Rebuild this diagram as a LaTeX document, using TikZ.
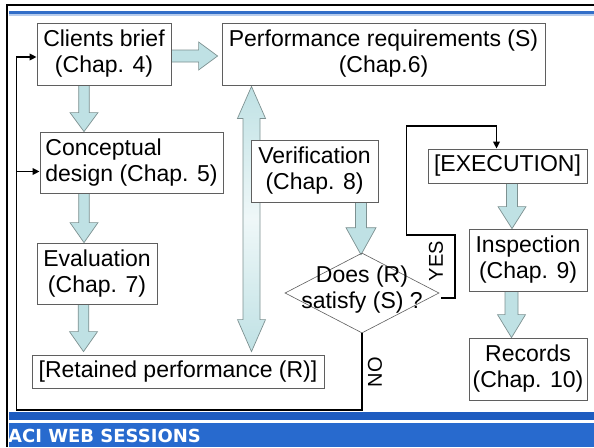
\documentclass[tikz,border=0pt]{standalone}
\usepackage{fontspec}
\setmainfont{Liberation Sans}
\newfontfamily\bandfont{DejaVu Sans}
\usetikzlibrary{calc,shapes.geometric,arrows.meta}
\definecolor{arrowfill}{RGB}{191,225,228}
\definecolor{arrowline}{RGB}{125,145,145}
\definecolor{boxline}{RGB}{95,95,95}
\definecolor{bandblue}{RGB}{40,106,206}
\definecolor{banddark}{RGB}{30,92,192}
\definecolor{stripblue}{RGB}{50,110,200}
\pgfdeclarelayer{back}
\pgfdeclarelayer{bg}
\pgfsetlayers{back,bg,main}
\tikzset{
  box/.style={draw=boxline, line width=0.8pt, fill=white, inner sep=0pt,
    align=center, font=\fontsize{23}{26}\selectfont},
  barrow/.style={draw=arrowline, line width=0.7pt, fill=arrowfill},
  shadedarrow/.style={draw=arrowline, line width=0.7pt, top color=arrowfill,
    bottom color=arrowfill, middle color=arrowfill!25},
  conn/.style={line width=1.8pt, -{Triangle[length=7pt,width=6.5pt]}},
  lbl/.style={font=\fontsize{20}{22}\selectfont, rotate=90, inner sep=0pt}
}
% half shaft, half head, head length, start, end
\newcommand\blockarrow[5]{%
  \coordinate (ba-s) at #4; \coordinate (ba-e) at #5;
  \coordinate (ba-h) at ($(ba-e)!#3!(ba-s)$);
  \path[barrow] ($(ba-s)!#1!90:(ba-e)$) -- ($(ba-h)!#1!90:(ba-e)$) --
    ($(ba-h)!#2!90:(ba-e)$) -- (ba-e) -- ($(ba-h)!#2!-90:(ba-e)$) --
    ($(ba-h)!#1!-90:(ba-e)$) -- ($(ba-s)!#1!-90:(ba-e)$) -- cycle;}
\newcommand\doublearrow[5]{%
  \coordinate (da-s) at #4; \coordinate (da-e) at #5;
  \coordinate (da-h1) at ($(da-s)!#3!(da-e)$);
  \coordinate (da-h2) at ($(da-e)!#3!(da-s)$);
  \path[shadedarrow] (da-s) -- ($(da-h1)!#2!90:(da-e)$) -- ($(da-h1)!#1!90:(da-e)$) --
    ($(da-h2)!#1!90:(da-e)$) -- ($(da-h2)!#2!90:(da-e)$) -- (da-e) --
    ($(da-h2)!#2!-90:(da-e)$) -- ($(da-h2)!#1!-90:(da-e)$) --
    ($(da-h1)!#1!-90:(da-e)$) -- ($(da-h1)!#2!-90:(da-e)$) -- cycle;}
\begin{document}
\begin{tikzpicture}[x=1pt, y=-1pt]
\useasboundingbox (0,0) rectangle (594,447);
\begin{pgfonlayer}{back}
\fill[white] (0,0) rectangle (594,447);
\end{pgfonlayer}
% frame and bands
\fill[stripblue] (9,10.5) rectangle (594,14);
\fill[stripblue!35] (9,14) rectangle (594,15.5);
\fill[banddark] (8.5,411.5) rectangle (594,420);
\fill[white] (8.5,420) rectangle (594,423);
\fill[bandblue] (8.5,423) rectangle (594,447);
\draw[line width=2.5pt] (7,447) -- (7,5) -- (594,5);
\node[anchor=base west, text=white, inner sep=0pt,
  font=\bandfont\bfseries\fontsize{18}{20}\selectfont] (band) at (8,442.5) {ACI WEB SESSIONS};

% boxes
\node[box, minimum width=134pt, minimum height=62pt] (cb) at (104,54) {Clients brief\\(Chap. 4)};
\node[box, minimum width=323pt, minimum height=62pt] (pr) at (383.5,54) {Performance requirements (S)\\(Chap.6)};
\node[box, align=left, minimum width=183pt, minimum height=61pt] (cd) at (131.5,162.5) {Conceptual\\design (Chap. 5)};
\node[box, minimum width=127pt, minimum height=62pt] (ver) at (314.5,171) {Verification\\(Chap. 8)};
\node[box, minimum width=159pt, minimum height=34pt] (exe) at (507.5,166) {[EXECUTION]};
\node[box, minimum width=120pt, minimum height=61pt] (ev) at (97,273.5) {Evaluation\\(Chap. 7)};
\node[box, minimum width=292pt, minimum height=33pt] (ret) at (178,371.5) {[Retained performance (R)]};
\node[diamond, draw=boxline, line width=0.6pt, minimum width=154pt, minimum height=80pt, inner sep=0pt] (dia) at (362,293) {};
\node[inner sep=0pt, align=center, font=\fontsize{23}{26}\selectfont] (diatext) at ($(dia.center)+(0,-3)$) {Does (R)\\satisfy (S) ?};
\node[box, minimum width=118pt, minimum height=62pt] (ins) at (528,260) {Inspection\\(Chap. 9)};
\node[box, minimum width=118pt, minimum height=62pt] (rec) at (528,369) {Records\\(Chap. 10)};

% block arrows
\begin{pgfonlayer}{bg}
\coordinate (a1s) at ($(cb.east)+(0,2)$);
\coordinate (a1e) at ($(pr.west)+(-4,2)$);
\blockarrow{6pt}{14pt}{19pt}{(a1s)}{(a1e)}
\coordinate (a2s) at ($(cb.south)+(-20,0)$);
\coordinate (a2e) at (a2s |- cd.north);
\blockarrow{5.3pt}{14pt}{19pt}{(a2s)}{(a2e)}
\coordinate (a3s) at ($(cd.south)+(-47.5,0)$);
\coordinate (a3e) at (a3s |- ev.north);
\blockarrow{5.3pt}{14pt}{20pt}{(a3s)}{(a3e)}
\coordinate (a4s) at ($(ev.south)+(-13.5,0)$);
\coordinate (a4e) at ($(a4s |- ret.north)+(0,-3)$);
\blockarrow{5.3pt}{14pt}{20pt}{(a4s)}{(a4e)}
\coordinate (a5s) at ($(pr.south)+(-132,1)$);
\coordinate (a5e) at ($(a5s |- ret.north)+(0,-3)$);
\doublearrow{8.5pt}{14pt}{32pt}{(a5s)}{(a5e)}
\coordinate (a6s) at ($(ver.south)+(46.5,0)$);
\coordinate (a6e) at ($(a6s |- dia.north)+(0,2)$);
\blockarrow{5.5pt}{15pt}{27pt}{(a6s)}{(a6e)}
\coordinate (a7s) at ($(exe.south)+(4.5,0)$);
\coordinate (a7e) at (a7s |- ins.north);
\blockarrow{5.5pt}{14pt}{22pt}{(a7s)}{(a7e)}
\coordinate (a8s) at ($(ins.south)+(-16.5,0)$);
\coordinate (a8e) at (a8s |- rec.north);
\blockarrow{6.5pt}{14pt}{23pt}{(a8s)}{(a8e)}
\end{pgfonlayer}

% YES loop
\coordinate (ys) at ($(dia.east)+(2,5)$);
\coordinate (y1) at (455,298);
\coordinate (y2) at (406.5,235);
\coordinate (y3) at ($(exe.north)+(-11,-22.5)$);
\coordinate (yend) at ($(exe.north)+(-11,0)$);
\draw[conn] (ys) -- (y1) |- (y2) |- (y3) -- (yend);
\node[lbl] (yes) at (436,261) {YES};

% NO loop
\coordinate (nobl) at (16.5,410);
\coordinate (cbin) at ($(cb.west)+(0,3)$);
\coordinate (cdin) at ($(cd.west)+(0,9)$);
\draw[conn] (dia.south) |- (nobl) |- (cbin);
\draw[conn] (nobl |- cdin) -- (cdin);
\node[lbl] (no) at (375,372) {NO};
\end{tikzpicture}
\end{document}
